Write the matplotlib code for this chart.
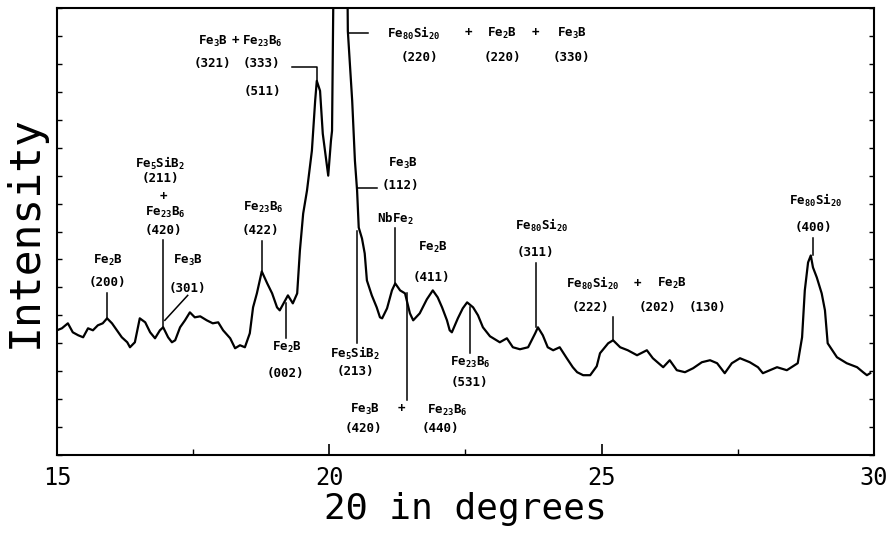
import matplotlib
matplotlib.use("Agg")
import matplotlib.pyplot as plt
import numpy as np
from matplotlib.ticker import MultipleLocator

plt.rcParams["mathtext.fontset"] = "custom"
plt.rcParams["mathtext.rm"] = "DejaVu Sans Mono:bold"
plt.rcParams["mathtext.default"] = "rm"

# Diffraction scan: 2-theta (degrees) and intensity (arbitrary units)
two_theta = [
    15.00, 15.09, 15.20, 15.29, 15.39, 15.48, 15.57, 15.66, 15.75, 15.84,
    15.92, 16.01, 16.10, 16.19, 16.29, 16.34, 16.43, 16.52, 16.62, 16.71,
    16.80, 16.89, 16.95, 17.04, 17.11, 17.17, 17.26, 17.35, 17.44, 17.53,
    17.63, 17.75, 17.86, 17.96, 18.05, 18.18, 18.27, 18.36, 18.45, 18.54,
    18.60, 18.67, 18.76, 18.86, 18.95, 19.04, 19.09, 19.19, 19.24, 19.33,
    19.41, 19.46, 19.52, 19.59, 19.68, 19.74, 19.77, 19.83, 19.88, 19.98,
    20.03, 20.05, 20.07, 20.09, 20.32, 20.34, 20.42, 20.47, 20.51, 20.54,
    20.60, 20.65, 20.69, 20.78, 20.87, 20.93, 20.97, 21.06, 21.15, 21.21,
    21.30, 21.39, 21.48, 21.54, 21.66, 21.79, 21.90, 21.99, 22.07, 22.16,
    22.21, 22.25, 22.36, 22.45, 22.53, 22.64, 22.73, 22.82, 22.95, 23.13,
    23.26, 23.37, 23.50, 23.65, 23.78, 23.83, 23.92, 24.01, 24.11, 24.23,
    24.36, 24.47, 24.55, 24.66, 24.79, 24.91, 24.97, 25.12, 25.21, 25.34,
    25.48, 25.65, 25.83, 25.94, 26.13, 26.25, 26.38, 26.53, 26.68, 26.84,
    26.99, 27.12, 27.26, 27.39, 27.54, 27.72, 27.87, 27.96, 28.09, 28.22,
    28.40, 28.60, 28.68, 28.73, 28.79, 28.84, 28.88, 28.95, 29.04, 29.10,
    29.15, 29.32, 29.50, 29.69, 29.80, 29.87, 29.93,
]
intensity = [
    125, 127, 132, 123, 120, 118, 127, 125, 130, 132,
    137, 132, 125, 118, 113, 108, 113, 137, 133, 123,
    117, 125, 128, 118, 113, 115, 128, 135, 143, 138,
    139, 135, 132, 133, 125, 117, 107, 110, 108, 122,
    148, 162, 184, 172, 162, 148, 145, 155, 160, 152,
    162, 205, 242, 265, 305, 355, 375, 365, 322, 280,
    315, 325, 435, 555, 555, 425, 355, 295, 265, 228,
    217, 202, 175, 160, 148, 138, 137, 147, 165, 172,
    165, 162, 142, 135, 142, 156, 165, 158, 148, 135,
    125, 123, 137, 147, 153, 148, 140, 128, 119, 113,
    117, 108, 106, 108, 122, 128, 120, 108, 105, 108,
    97, 88, 83, 80, 80, 89, 102, 112, 115, 108,
    105, 100, 105, 97, 88, 95, 85, 83, 87, 93,
    95, 92, 82, 92, 97, 93, 88, 82, 85, 88,
    85, 92, 118, 165, 193, 200, 188, 178, 162, 145,
    112, 98, 92, 88, 83, 80, 82,
]

fig = plt.figure(figsize=(8.89, 5.36), dpi=100)
ax = fig.add_axes([0.0641, 0.1511, 0.9190, 0.8339])
ax.plot(two_theta, intensity, color="black", lw=1.6)

ax.set_xlim(15, 30)
ax.set_ylim(0, 448)
ax.set_xticks([15, 20, 25, 30])
ax.xaxis.set_minor_locator(MultipleLocator(2.5))
ax.yaxis.set_major_locator(MultipleLocator(28))
ax.tick_params(axis="x", which="major", direction="in", length=8, width=1.2,
               pad=8, labelsize=17)
ax.tick_params(axis="x", which="minor", direction="in", length=4, width=1.0)
ax.tick_params(axis="y", which="major", direction="in", length=3.5, width=1.0,
               left=True, right=True, labelleft=False)
for lab in ax.get_xticklabels():
    lab.set_fontfamily("DejaVu Sans Mono")
for sp in ax.spines.values():
    sp.set_linewidth(1.5)

ax.set_xlabel("2Θ in degrees", fontsize=26, family="DejaVu Sans Mono", labelpad=1)
ax.set_ylabel("Intensity", fontsize=31, family="DejaVu Sans Mono", labelpad=8)

txt = dict(fontsize=9, family="DejaVu Sans Mono", weight="bold",
           ha="center", va="center")
lead = dict(color="black", lw=1.1)

def label(x, y, s):
    ax.text(x, y, s, **txt)

# Fe3B + Fe23B6 (321) (333) (511)
label(17.86, 415, "Fe$_3$B"); label(18.27, 415, "+"); label(18.76, 415, "Fe$_{23}$B$_6$")
label(17.86, 392, "(321)"); label(18.76, 392, "(333)"); label(18.78, 364, "(511)")
ax.plot([19.31, 19.77, 19.77], [389, 389, 375], **lead)

# Fe80Si20 + Fe2B + Fe3B
label(21.54, 423, "Fe$_{80}$Si$_{20}$"); label(22.55, 423, "+")
label(23.17, 423, "Fe$_2$B"); label(23.78, 423, "+"); label(24.45, 423, "Fe$_3$B")
label(21.66, 398, "(220)"); label(23.17, 398, "(220)"); label(24.45, 398, "(330)")
ax.plot([20.34, 20.71], [423, 423], **lead)

# Fe3B (112)
label(21.35, 292, "Fe$_3$B"); label(21.30, 270, "(112)")
ax.plot([20.51, 20.87], [268, 268], **lead)

# NbFe2
label(21.21, 237, "NbFe$_2$")
ax.plot([21.21, 21.21], [228, 172], **lead)

# Fe2B (411)
label(21.90, 208, "Fe$_2$B"); label(21.88, 178, "(411)")

# Fe80Si20 (311)
label(23.90, 230, "Fe$_{80}$Si$_{20}$"); label(23.78, 203, "(311)")
ax.plot([23.79, 23.79], [192, 128], **lead)

# Fe80Si20 + Fe2B (222) (202) (130)
label(24.84, 172, "Fe$_{80}$Si$_{20}$"); label(25.65, 172, "+"); label(26.29, 172, "Fe$_2$B")
label(24.79, 148, "(222)"); label(26.02, 148, "(202)"); label(26.95, 148, "(130)")
ax.plot([25.21, 25.21], [138, 115], **lead)

# Fe80Si20 (400)
label(28.92, 255, "Fe$_{80}$Si$_{20}$"); label(28.88, 228, "(400)")
ax.plot([28.88, 28.88], [218, 200], **lead)

# Fe23B6 (531)
label(22.58, 93, "Fe$_{23}$B$_6$"); label(22.58, 73, "(531)")
ax.plot([22.58, 22.58], [148, 102], **lead)

# Fe3B + Fe23B6 (420) (440)
label(20.65, 46, "Fe$_3$B"); label(21.33, 47, "+"); label(22.16, 45, "Fe$_{23}$B$_6$")
label(20.62, 27, "(420)"); label(22.03, 27, "(440)")
ax.plot([21.43, 21.43], [162, 55], **lead)

# Fe5SiB2 (213)
label(20.47, 102, "Fe$_5$SiB$_2$"); label(20.47, 84, "(213)")
ax.plot([20.51, 20.51], [225, 112], **lead)

# Fe2B (002)
label(19.22, 108, "Fe$_2$B"); label(19.19, 82, "(002)")
ax.plot([19.20, 19.20], [152, 117], **lead)

# Fe23B6 (422)
label(18.78, 248, "Fe$_{23}$B$_6$"); label(18.73, 225, "(422)")
ax.plot([18.76, 18.76], [215, 184], **lead)

# Fe5SiB2 (211) + Fe23B6 (420)
label(16.89, 292, "Fe$_5$SiB$_2$"); label(16.89, 277, "(211)")
label(16.95, 259, "+"); label(16.98, 243, "Fe$_{23}$B$_6$"); label(16.95, 225, "(420)")
ax.plot([16.95, 16.95], [216, 128], **lead)

# Fe2B (200)
label(15.94, 195, "Fe$_2$B"); label(15.92, 173, "(200)")
ax.plot([15.92, 15.92], [162, 137], **lead)

# Fe3B (301)
label(17.40, 195, "Fe$_3$B"); label(17.40, 167, "(301)")
ax.plot([17.40, 16.98], [160, 135], **lead)

fig.savefig("out.png", dpi=100)
